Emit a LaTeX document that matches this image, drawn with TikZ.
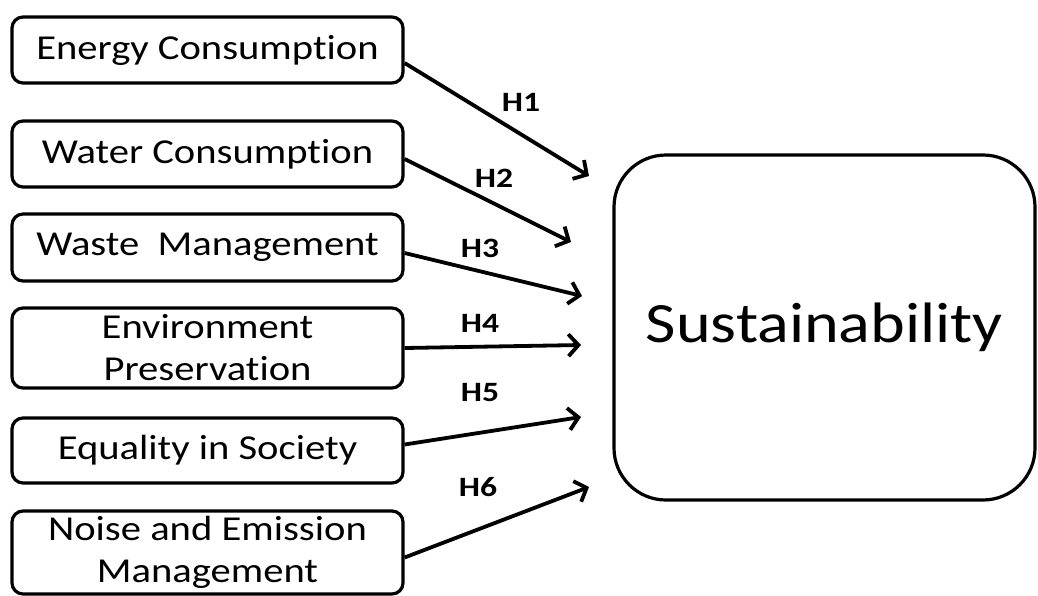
\documentclass[tikz,border=0pt]{standalone}
\usepackage{fontspec}
\setmainfont{Carlito}[Ligatures=NoCommon, FakeStretch=1.16]
\newfontfamily\hypfont{Carlito}[Ligatures=NoCommon, FakeStretch=1.2]
\usetikzlibrary{arrows.meta}
\begin{document}
\begin{tikzpicture}[x=1pt,y=-1pt,
  factor/.style={draw, line width=3.2pt, rounded corners=11pt, minimum width=391pt,
    align=center, inner sep=0pt, font=\fontsize{35}{42}\selectfont},
  target/.style={draw, line width=3.2pt, rounded corners=52pt, minimum width=421pt,
    minimum height=345pt, inner sep=0pt, font=\fontsize{57}{70}\selectfont},
  link/.style={line width=3.8pt, -{Straight Barb[length=10pt,width=22pt,line width=3.8pt]}},
  hyp/.style={font=\hypfont\fontsize{28}{32}\bfseries\selectfont, inner sep=0pt}]
\useasboundingbox (0,0) rectangle (1038,595);

% independent factors
\node[factor, minimum height=66pt] (e1) at (207.5,50) {Energy Consumption};
\node[factor, minimum height=66pt] (e2) at (207.5,154) {Water Consumption};
\node[factor, minimum height=67pt] (e3) at (207.5,247.5) {Waste~ Management};
\node[factor, minimum height=80pt] (e4) at (207.5,348) {Environment\\Preservation};
\node[factor, minimum height=65pt] (e5) at (207.5,450.5) {Equality in Society};
\node[factor, minimum height=83pt] (e6) at (207.5,552.5) {Noise and Emission\\Management};

% dependent construct
\node[target] (s) at (824.5,327.5) {Sustainability};

% arrow tips
\coordinate (t1) at (589,176);
\coordinate (t2) at (571,242);
\coordinate (t3) at (582,296);
\coordinate (t4) at (581,345);
\coordinate (t5) at (581,417);
\coordinate (t6) at (589,487);

\draw[link] ([yshift=-13pt]e1.east) -- (t1);
\draw[link] ([yshift=-5pt]e2.east) -- (t2);
\draw[link] ([yshift=-5.5pt]e3.east) -- (t3);
\draw[link] (e4.east) -- (t4);
\draw[link] ([yshift=6pt]e5.east) -- (t5);
\draw[link] ([yshift=-5pt]e6.east) -- (t6);

% hypothesis labels
\node[hyp] (h1) at (521,102) {H1};
\node[hyp] (h2) at (494,178) {H2};
\node[hyp] (h3) at (480,248) {H3};
\node[hyp] (h4) at (480,323) {H4};
\node[hyp] (h5) at (480,393) {H5};
\node[hyp] (h6) at (478,487) {H6};
\end{tikzpicture}
\end{document}
